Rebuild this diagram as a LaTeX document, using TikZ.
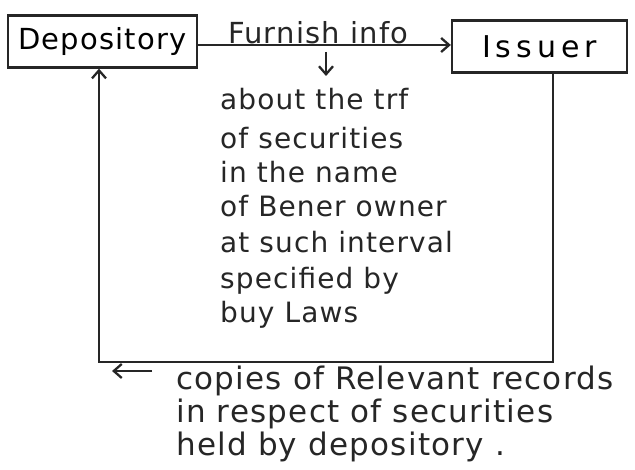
\documentclass[tikz,border=0pt]{standalone}
\usepackage{fontspec}
\setmainfont{DejaVu Sans}[LetterSpace=4]
\usetikzlibrary{arrows.meta}
\begin{document}
\begin{tikzpicture}[x=1pt,y=-1pt,
  ink/.style={draw=black!85,line width=2.3pt},
  party/.style={ink,minimum height=52pt,inner sep=0pt,font=\fontsize{29}{29}\selectfont},
  note/.style={anchor=base west,inner sep=0pt,font=\fontsize{28}{28}\selectfont,text=black!85},
  tip/.style={-{Straight Barb[length=8pt,width=14pt]}}]
\useasboundingbox[fill=white] (0,0) rectangle (635,470);
% the two parties
\node[party,minimum width=189pt] (dep) at (102.5,41.5) {Depository};
\node[party,minimum width=175pt,font=\fontsize{30}{30}\selectfont] (iss) at (539.5,46.5) {I\,s\,s\,u\,e\,r};
% depository furnishes information to the issuer
\draw[ink,tip] (dep.east |- 0,45) -- (iss.west |- 0,45);
\node[note,font=\fontsize{29}{29}\selectfont] (furn) at (228,44) {Furnish info};
\coordinate (d0) at (326,52);
\coordinate (d1) at (326,76);
\draw[ink,tip] (d0) -- (d1);
% what the information is about
\node[note] (l1) at (220,110) {about the trf};
\node[note] (l2) at (220,149) {of securities};
\node[note] (l3) at (220,183) {in the name};
\node[note] (l4) at (220,217) {of Bener owner};
\node[note] (l5) at (220,253) {at such interval};
\node[note] (l6) at (220,289) {specified by};
\node[note] (l7) at (220,323) {buy Laws};
% records returned by the issuer
\coordinate (c1) at (553,362);
\coordinate (c2) at (99,362);
\draw[ink,tip] (iss.south -| 553,0) -- (c1) -- (c2) -- (dep.south -| 99,0);
\coordinate (a0) at (152,371);
\coordinate (a1) at (112,371);
\draw[ink,tip] (a0) -- (a1);
\node[note,font=\fontsize{31}{31}\selectfont] (r1) at (176,390) {copies of Relevant records};
\node[note,font=\fontsize{31}{31}\selectfont] (r2) at (176,422) {in respect of securities};
\node[note,font=\fontsize{31}{31}\selectfont] (r3) at (176,455) {held by depository .};
\end{tikzpicture}
\end{document}
